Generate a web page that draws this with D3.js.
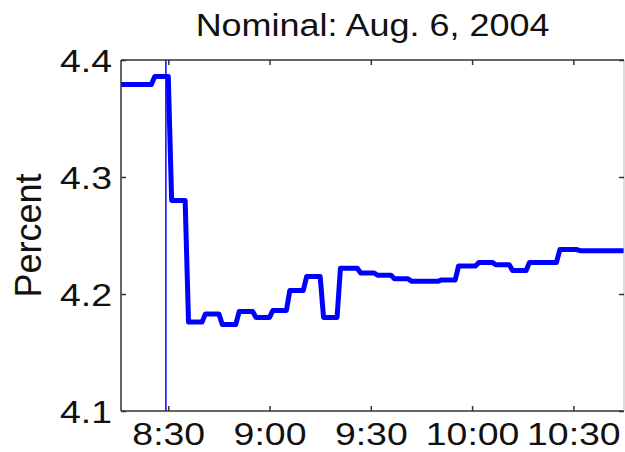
<!DOCTYPE html>
<html><head><meta charset="utf-8">
<script src="https://cdn.jsdelivr.net/npm/d3@7"></script>
<style>
html,body{margin:0;padding:0;background:#fff;}
svg text{font-family:"Liberation Sans",Arial,Helvetica,sans-serif;fill:#111;}
</style></head>
<body><svg id="c" width="625" height="452"></svg>
<script>
const times = ["8:16","8:25","8:26","8:30","8:31","8:35","8:36","8:40","8:41","8:45","8:46","8:50","8:51","8:55","8:56","9:00","9:01","9:05","9:06","9:10","9:11","9:15","9:16","9:20","9:21","9:26","9:27","9:31","9:32","9:36","9:37","9:41","9:42","9:50","9:51","9:55","9:56","10:01","10:02","10:06","10:07","10:11","10:12","10:16","10:17","10:25","10:26","10:31","10:32","10:45"];
const yields = [4.379,4.379,4.386,4.386,4.280,4.280,4.176,4.176,4.183,4.183,4.174,4.174,4.185,4.185,4.180,4.180,4.186,4.186,4.203,4.203,4.215,4.215,4.180,4.180,4.222,4.222,4.218,4.218,4.216,4.216,4.213,4.213,4.211,4.211,4.212,4.212,4.224,4.224,4.227,4.227,4.225,4.225,4.220,4.220,4.227,4.227,4.238,4.238,4.237,4.237];
const xTickLabels = ["8:30","9:00","9:30","10:00","10:30"];
const yTicks = [4.1,4.2,4.3,4.4];
const announcement = "8:29.3";
const title = "Nominal: Aug. 6, 2004";
const yLabel = "Percent";
const xStart = "8:16", xEnd = "10:45";

const toMin = s => { const [h,m] = s.split(":"); return (+h)*60 + (+m); };
const data = times.map((t,i)=>({x:toMin(t), y:yields[i]}));

const svg = d3.select("#c");
const L=121, R=624, T=60, B=411;
const x = d3.scaleLinear().domain([toMin(xStart), toMin(xEnd)]).range([L,R]);
const y = d3.scaleLinear().domain([4.1,4.4]).range([B,T]);

// line
svg.append("path").datum(data)
  .attr("fill","none").attr("stroke","#0000ff").attr("stroke-width",5)
  .attr("stroke-linejoin","round").attr("stroke-linecap","butt")
  .attr("d", d3.line().x(d=>x(d.x)).y(d=>y(d.y)));

// announcement line
svg.append("line")
  .attr("x1",x(toMin(announcement))).attr("x2",x(toMin(announcement)))
  .attr("y1",T).attr("y2",B).attr("stroke","#0000ff").attr("stroke-width",1.5);

// frame
const frameColor="#333";
svg.append("line").attr("x1",L).attr("x2",R).attr("y1",T).attr("y2",T).attr("stroke",frameColor).attr("stroke-width",1.5);
svg.append("line").attr("x1",L).attr("x2",R).attr("y1",B).attr("y2",B).attr("stroke",frameColor).attr("stroke-width",1.5);
svg.append("line").attr("x1",L).attr("x2",L).attr("y1",T).attr("y2",B).attr("stroke",frameColor).attr("stroke-width",1.5);
svg.append("line").attr("x1",R).attr("x2",R).attr("y1",T).attr("y2",B).attr("stroke","#bbb").attr("stroke-width",1);

// axes
const sx = 1.17;
const xTicks = xTickLabels.map(toMin);
const xAxis = d3.axisBottom(x).tickValues(xTicks).tickFormat((d,i)=>xTickLabels[i]).tickSizeInner(-5).tickSizeOuter(0);
const gx = svg.append("g").attr("transform",`translate(0,${B})`).call(xAxis);
const xTop = d3.axisTop(x).tickValues(xTicks).tickFormat("").tickSizeInner(-5).tickSizeOuter(0);
const gxt = svg.append("g").attr("transform",`translate(0,${T})`).call(xTop);
const yAxis = d3.axisLeft(y).tickValues(yTicks).tickFormat(d3.format(".1f")).tickSizeInner(-5).tickSizeOuter(0);
const gy = svg.append("g").attr("transform",`translate(${L},0)`).call(yAxis);
const yRight = d3.axisRight(y).tickValues(yTicks).tickFormat("").tickSizeInner(-5).tickSizeOuter(0);
const gyr = svg.append("g").attr("transform",`translate(${R},0)`).call(yRight);
[gx,gxt,gy,gyr].forEach(g=>{
  g.select(".domain").remove();
  g.selectAll(".tick line").attr("stroke","#333").attr("stroke-width",1.5);
});
gx.selectAll("text").attr("font-size",32).attr("fill","#111")
  .attr("font-family","Liberation Sans, Arial, sans-serif")
  .attr("y",0).attr("dy",0).attr("transform",`translate(0,34) scale(${sx},1)`);
gy.selectAll("text").attr("font-size",32).attr("fill","#111")
  .attr("font-family","Liberation Sans, Arial, sans-serif")
  .attr("x",0).attr("dy","0.36em").attr("transform",`translate(-9,0) scale(${sx},1)`);

// title
svg.append("text").attr("transform",`translate(${(L+R)/2},36) scale(1.16,1)`).attr("text-anchor","middle")
  .attr("font-size",31).text(title);

// y label
svg.append("text").attr("transform",`translate(41,${(T+B)/2}) rotate(-90)`)
  .attr("text-anchor","middle").attr("font-size",36).text(yLabel);
</script></body></html>
